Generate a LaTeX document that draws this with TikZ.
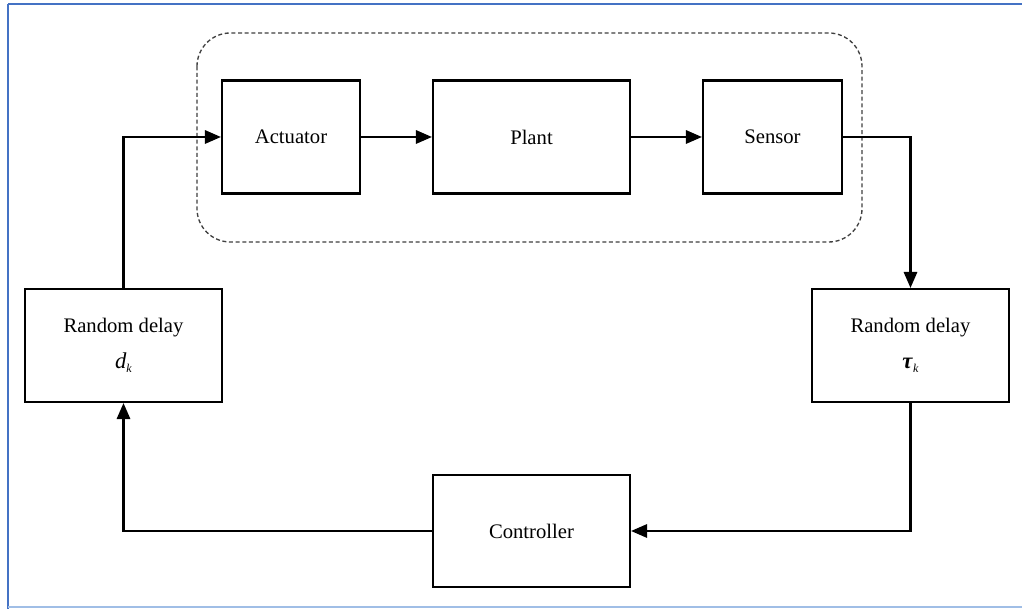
\documentclass[tikz,border=0pt]{standalone}
\usepackage{fontspec}
\setmainfont{Liberation Serif}
\usetikzlibrary{arrows.meta}
\newcommand{\subk}{\raisebox{-0.45ex}{\fontsize{9}{9}\selectfont\textit{k}}}
\begin{document}
\begin{tikzpicture}[x=0.75pt,y=-0.75pt,
  blk/.style={draw=black, line width=1.6pt, fill=white, inner sep=0pt,
    font=\fontsize{15.5}{18}\selectfont},
  link/.style={draw=black, line width=1.6pt, -{Triangle[length=12pt,width=10pt]}}]
\useasboundingbox (0,0) rectangle (1022,609);
\fill[white] (0,0) rectangle (1022,609);
% frame lines
\draw[color={rgb,255:red,68;green,114;blue,196}, line width=2pt] (8,4) -- (1022,4);
\draw[color={rgb,255:red,68;green,114;blue,196}, line width=2pt] (8,4) -- (8,609);
\draw[color={rgb,255:red,160;green,190;blue,230}, line width=1pt] (8,607) -- (1022,607);

% plant group
\draw[black!75, line width=1pt, dash pattern=on 3pt off 2pt, rounded corners=25pt]
  (197,33) rectangle (862,242);

% blocks
\node[blk, minimum width=138*0.75pt, minimum height=113*0.75pt] (act) at (291,137) {Actuator};
\node[blk, minimum width=197*0.75pt, minimum height=113*0.75pt] (plant) at (531.5,137) {Plant};
\node[blk, minimum width=139*0.75pt, minimum height=113*0.75pt] (sens) at (772.5,137) {Sensor};
\node[blk, minimum width=197*0.75pt, minimum height=113*0.75pt, align=center] (dd) at (123.5,345.5)
  {Random delay\\[9pt]{\fontsize{17}{18}\selectfont\textit{d}}\subk};
\node[blk, minimum width=197*0.75pt, minimum height=113*0.75pt, align=center] (td) at (910.5,345.5)
  {Random delay\\[9pt]{\fontsize{17}{18}\selectfont\textbf{\textit{τ}}}\subk};
\node[blk, minimum width=197*0.75pt, minimum height=112*0.75pt] (ctrl) at (531.5,531) {Controller};

% connectors
\draw[link] (act) -- (plant);
\draw[link] (plant) -- (sens);
\draw[link] (sens.east) -| (td.north);
\draw[link] (td.south) |- (ctrl.east);
\draw[link] (ctrl.west) -| (dd.south);
\draw[link] (dd.north) |- (act.west);
\end{tikzpicture}
\end{document}
